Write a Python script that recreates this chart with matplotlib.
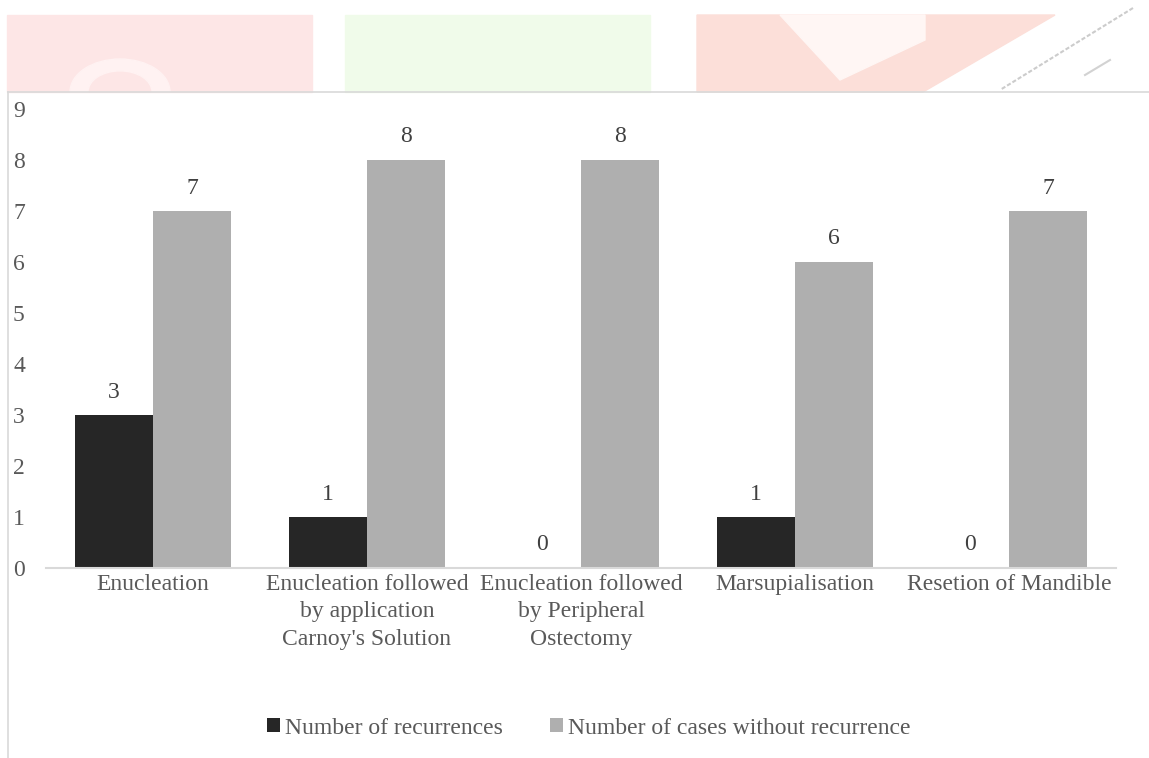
import matplotlib
matplotlib.use("Agg")
import matplotlib.pyplot as plt
from matplotlib.patches import Rectangle, Polygon, Wedge
import numpy as np

categories = [
    "Enucleation",
    "Enucleation followed\nby application\nCarnoy's Solution",
    "Enucleation followed\nby Peripheral\nOstectomy",
    "Marsupialisation",
    "Resetion of Mandible",
]
recurrences = [3, 1, 0, 1, 0]
without_recurrence = [7, 8, 8, 6, 7]
series_names = ["Number of recurrences", "Number of cases without recurrence"]
y_ticks = list(range(0, 10))

W, H = 1149, 758
DPI = 100
TEXT = "#595959"
DARK = "#262626"
LIGHT = "#afafaf"
FS = 17

plt.rcParams["font.family"] = ["Liberation Serif", "DejaVu Serif"]

fig = plt.figure(figsize=(W / DPI, H / DPI), dpi=DPI)
fig.patch.set_facecolor("white")

def px(x, y):
    return (x / W, 1 - y / H)

# faint header band above the chart frame
band = [
    Rectangle(px(7, 92), 305 / W, 77 / H, color="#fde6e6"),
    Rectangle(px(345, 92), 305 / W, 77 / H, color="#f0fbea"),
    Polygon([px(697, 92), px(697, 15), px(1055, 15), px(923, 92)], color="#fcdfd9"),
    Polygon([px(780, 15), px(925, 15), px(925, 40), px(840, 80)], color="#fff6f4"),
]
for p in band:
    p.set_transform(fig.transFigure)
    p.set_zorder(0)
    fig.patches.append(p)
arch = Wedge(px(120, 92), 50 / W, 0, 180, width=18 / W, color="#fff2f2",
             transform=fig.transFigure)
fig.patches.append(arch)
fig.add_artist(plt.Line2D([1133 / W, 1000 / W], [1 - 8 / H, 1 - 90 / H],
                          color="#cccccc", lw=1.5, ls=(0, (2, 1)),
                          transform=fig.transFigure))
fig.add_artist(plt.Line2D([1085 / W, 1110 / W], [1 - 75 / H, 1 - 60 / H],
                          color="#d2d2d2", lw=1.5, transform=fig.transFigure))

# chart frame
fig.add_artist(plt.Line2D([8 / W, 8 / W], [0, 1 - 92 / H], color="#d9d9d9", lw=1.2,
                          transform=fig.transFigure))
fig.add_artist(plt.Line2D([8 / W, 1], [1 - 92 / H, 1 - 92 / H], color="#d9d9d9", lw=1.2,
                          transform=fig.transFigure))

ax = fig.add_axes([46 / W, 190 / H, 1070 / W, 459 / H])
ax.set_facecolor("none")
x = np.arange(len(categories))
bw = 0.365
b1 = ax.bar(x - bw / 2, recurrences, bw, color=DARK, label=series_names[0], zorder=2)
b2 = ax.bar(x + bw / 2, without_recurrence, bw, color=LIGHT, label=series_names[1], zorder=2)

for bars, vals in ((b1, recurrences), (b2, without_recurrence)):
    for rect, v in zip(bars, vals):
        ax.annotate(str(v), (rect.get_x() + rect.get_width() / 2, v),
                    xytext=(0, 9), textcoords="offset points",
                    ha="center", va="bottom", fontsize=FS, color="#404040")

ax.set_xlim(-0.5, len(categories) - 0.5)
ax.set_ylim(0, 9)
for s in ("top", "right", "left"):
    ax.spines[s].set_visible(False)
ax.spines["bottom"].set_color("#d9d9d9")
ax.spines["bottom"].set_linewidth(1.5)

ax.set_xticks(x)
ax.set_xticklabels(categories, fontsize=FS, color=TEXT, linespacing=1.42)
ax.tick_params(axis="x", length=0, pad=4)
ax.set_yticks(y_ticks)
ax.set_yticklabels([str(t) for t in y_ticks], fontsize=FS, color=TEXT, ha="left")
ax.tick_params(axis="y", length=0, pad=33 * 72 / DPI)

leg = fig.legend(handles=[b1, b2], labels=series_names, loc="center",
                 bbox_to_anchor=(589 / W, 30 / H), ncol=2, frameon=False,
                 fontsize=FS, handlelength=0.55, handleheight=0.55,
                 handletextpad=0.2, columnspacing=2.0, labelcolor=TEXT)

fig.savefig("out.png", dpi=DPI, facecolor="white")
